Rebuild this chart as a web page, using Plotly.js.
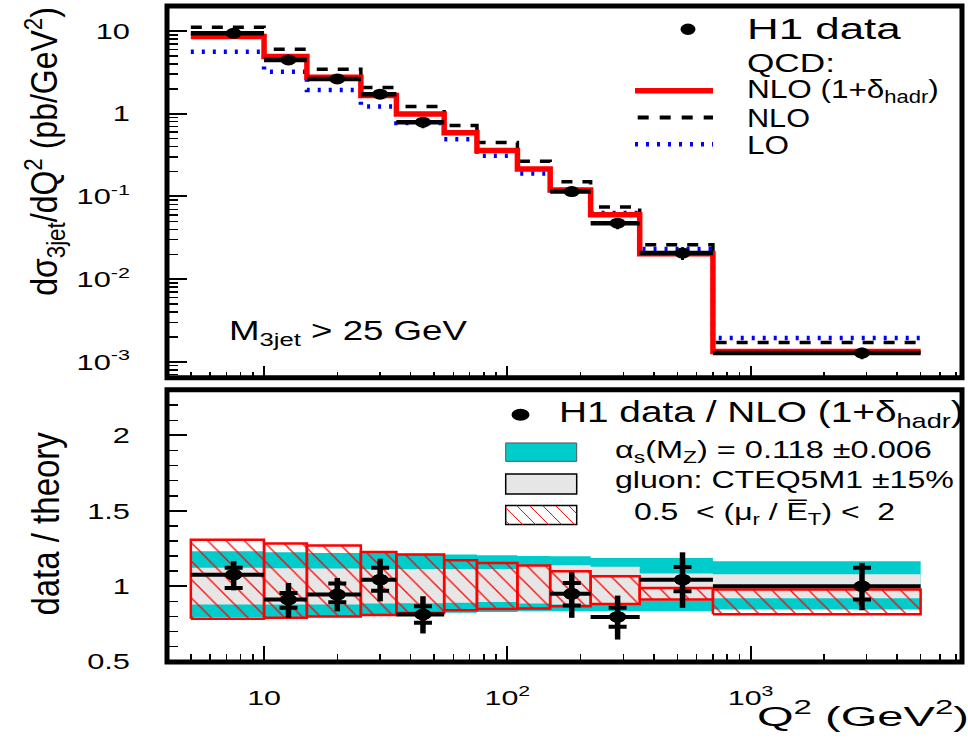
<!DOCTYPE html>
<html><head><meta charset="utf-8">
<script src="https://cdn.plot.ly/plotly-3.0.1.min.js"></script>
<style>html,body{margin:0;padding:0;background:#fff;} #chart{width:968px;height:750px;}</style>
</head><body><div id="chart"></div>
<script>
// ---------------- data ----------------
const binEdges = [5, 10, 15, 25, 35, 55, 75, 110, 150, 220, 350, 700, 5000];
const nloHadr = [8.6, 4.9, 2.76, 1.66, 0.99, 0.59, 0.36, 0.215, 0.12, 0.060, 0.0203, 0.00134];
const nlo     = [11.1, 6.0, 3.44, 2.07, 1.22, 0.72, 0.45, 0.267, 0.151, 0.0743, 0.026, 0.00172];
const lo      = [5.6, 3.22, 1.94, 1.22, 0.77, 0.49, 0.31, 0.19, 0.12, 0.063, 0.0231, 0.00195];

const dataQ2 = [7.5, 12.6, 20, 30, 45, 184, 284, 525, 2870];
const dataLo = [5, 10, 15, 25, 35, 150, 220, 350, 700];
const dataHi = [10, 15, 25, 35, 55, 220, 350, 700, 5000];
const xsec      = [9.38, 4.47, 2.63, 1.72, 0.789, 0.1146, 0.0475, 0.0207, 0.00128];
const xsecErrUp = [0.8, 0.5, 0.3, 0.24, 0.12, 0.016, 0.0075, 0.0036, 0.0002];
const xsecErrDn = [0.9, 0.45, 0.27, 0.2, 0.12, 0.016, 0.0075, 0.0036, 0.0002];

const ratio       = [1.077, 0.912, 0.945, 1.044, 0.813, 0.95, 0.797, 1.044, 1.0];
const ratioTotUp  = [0.089, 0.11, 0.11, 0.139, 0.121, 0.143, 0.141, 0.181, 0.155];
const ratioTotDn  = [0.104, 0.121, 0.111, 0.144, 0.126, 0.159, 0.15, 0.187, 0.159];
const ratioStatUp = [0.045, 0.044, 0.073, 0.078, 0.055, 0.072, 0.06, 0.084, 0.122];
const ratioStatDn = [0.088, 0.055, 0.051, 0.073, 0.055, 0.078, 0.066, 0.077, 0.088];

const alphaHi = [1.232, 1.225, 1.221, 1.221, 1.215, 1.21, 1.205, 1.2, 1.199, 1.188, 1.188, 1.166];
const alphaLo = [0.797, 0.797, 0.80, 0.81, 0.82, 0.824, 0.83, 0.834, 0.834, 0.834, 0.834, 0.846];
const gluonHi = [1.122, 1.12, 1.118, 1.115, 1.115, 1.115, 1.115, 1.14, 1.14, 1.13, 1.085, 1.08];
const gluonLo = [0.879, 0.879, 0.88, 0.885, 0.887, 0.89, 0.895, 0.885, 0.88, 0.88, 0.905, 0.92];
const scaleHi = [1.309, 1.283, 1.27, 1.228, 1.21, 1.172, 1.155, 1.137, 1.099, 1.066, 0.989, 0.978];
const scaleLo = [0.785, 0.792, 0.80, 0.81, 0.823, 0.841, 0.85, 0.853, 0.868, 0.882, 0.912, 0.815];

const yTopTickVals = [0.001, 0.01, 0.1, 1, 10];
const yTopTickText = ['10<sup>-3</sup>', '10<sup>-2</sup>', '10<sup>-1</sup>', '1', '10'];
const xTickVals = [10, 100, 1000];
const xTickText = ['10', '10<sup>2</sup>', '10<sup>3</sup>'];
const yBotTickVals = [0.5, 1, 1.5, 2];
const yBotTickText = ['0.5', '1', '1.5', '2'];

// ---------------- helpers ----------------
const FONT = 'Liberation Sans, Arial, Helvetica, sans-serif';
const W = 968, H = 750, L = 167, R = 962, T = 6, B = 662.5;
const px = p => (p - L) / (R - L);
const py = p => (B - p) / (B - T);
const stepY = a => a.concat([a[a.length - 1]]);

function minorLog(e0, e1) {
  const v = [];
  for (let e = e0; e <= e1; e++) for (let d = 2; d <= 9; d++) v.push(d * Math.pow(10, e));
  return v;
}

// boxes for scale uncertainty
const boxX = [], boxY = [];
for (let i = 0; i < scaleHi.length; i++) {
  const a = binEdges[i], b = binEdges[i + 1];
  boxX.push(a, b, b, a, a, null);
  boxY.push(scaleLo[i], scaleLo[i], scaleHi[i], scaleHi[i], scaleLo[i], null);
}

const errXp = dataHi.map((h, i) => h - dataQ2[i]);
const errXm = dataLo.map((l, i) => dataQ2[i] - l);

const traces = [
  {x: binEdges, y: stepY(lo), mode: 'lines', xaxis: 'x', yaxis: 'y',
   line: {shape: 'hv', color: '#0000ff', width: 4.5, dash: '3px,8px'}},
  {x: binEdges, y: stepY(nlo), mode: 'lines', xaxis: 'x', yaxis: 'y',
   line: {shape: 'hv', color: '#000000', width: 3.5, dash: '11px,10px'}},
  {x: binEdges, y: stepY(nloHadr), mode: 'lines', xaxis: 'x', yaxis: 'y',
   line: {shape: 'hv', color: '#ff0000', width: 5.5}},
  {x: dataQ2, y: xsec, mode: 'markers', xaxis: 'x', yaxis: 'y',
   marker: {size: 11, color: '#000'},
   error_x: {type: 'data', symmetric: false, array: errXp, arrayminus: errXm, color: '#000', thickness: 4.5, width: 0},
   error_y: {type: 'data', symmetric: false, array: xsecErrUp, arrayminus: xsecErrDn, color: '#000', thickness: 3, width: 0}},

  {x: binEdges, y: stepY(alphaLo), mode: 'lines', xaxis: 'x2', yaxis: 'y2',
   line: {shape: 'hv', width: 0, color: '#00cccc'}},
  {x: binEdges, y: stepY(alphaHi), mode: 'lines', xaxis: 'x2', yaxis: 'y2', fill: 'tonexty', fillcolor: '#00cccc',
   line: {shape: 'hv', width: 0, color: '#00cccc'}},
  {x: binEdges, y: stepY(gluonLo), mode: 'lines', xaxis: 'x2', yaxis: 'y2',
   line: {shape: 'hv', width: 0, color: '#e6e6e6'}},
  {x: binEdges, y: stepY(gluonHi), mode: 'lines', xaxis: 'x2', yaxis: 'y2', fill: 'tonexty', fillcolor: '#e6e6e6',
   line: {shape: 'hv', width: 0, color: '#e6e6e6'}},
  {x: boxX, y: boxY, mode: 'lines', xaxis: 'x2', yaxis: 'y2', fill: 'toself', fillcolor: 'rgba(0,0,0,0)',
   fillpattern: {shape: '\\', fgcolor: '#ff0000', bgcolor: 'rgba(0,0,0,0)', size: 13, solidity: 0.1},
   line: {color: '#ff0000', width: 2.5}},
  {x: dataQ2, y: ratio, mode: 'markers', xaxis: 'x2', yaxis: 'y2',
   marker: {size: 11.5, color: '#000'},
   error_y: {type: 'data', symmetric: false, array: ratioStatUp, arrayminus: ratioStatDn, color: '#000', thickness: 4, width: 9}},
  {x: dataQ2, y: ratio, mode: 'markers', xaxis: 'x2', yaxis: 'y2',
   marker: {size: 11.5, color: '#000'},
   error_x: {type: 'data', symmetric: false, array: errXp, arrayminus: errXm, color: '#000', thickness: 4, width: 0},
   error_y: {type: 'data', symmetric: false, array: ratioTotUp, arrayminus: ratioTotDn, color: '#000', thickness: 5.5, width: 0}}
];

// ---------------- decorations ----------------
const shapes = [
  {type: 'rect', xref: 'x domain', yref: 'y domain', x0: 0, x1: 1, y0: 0, y1: 1, line: {color: '#000', width: 5}, layer: 'above'},
  {type: 'rect', xref: 'x2 domain', yref: 'y2 domain', x0: 0, x1: 1, y0: 0, y1: 1, line: {color: '#000', width: 5}, layer: 'above'},
  // top legend samples
  {type: 'circle', xref: 'paper', yref: 'paper', x0: px(680.5), x1: px(695.5), y0: py(35), y1: py(23.5), fillcolor: '#000', line: {width: 0}},
  {type: 'line', xref: 'paper', yref: 'paper', x0: px(635), x1: px(713), y0: py(90.7), y1: py(90.7), line: {color: '#ff0000', width: 5.5}},
  {type: 'line', xref: 'paper', yref: 'paper', x0: px(637.7), x1: px(713), y0: py(117.5), y1: py(117.5), line: {color: '#000', width: 4, dash: '11px,11px'}},
  {type: 'line', xref: 'paper', yref: 'paper', x0: px(635), x1: px(713), y0: py(144.3), y1: py(144.3), line: {color: '#0000ff', width: 4.5, dash: '3px,8px'}},
  // bottom legend samples
  {type: 'circle', xref: 'paper', yref: 'paper', x0: px(511.5), x1: px(529.5), y0: py(421), y1: py(409), fillcolor: '#000', line: {width: 0}},
  {type: 'rect', xref: 'paper', yref: 'paper', x0: px(505.7), x1: px(576.7), y0: py(461.7), y1: py(443.3), fillcolor: '#00cccc', line: {color: '#555', width: 1}},
  {type: 'rect', xref: 'paper', yref: 'paper', x0: px(505.7), x1: px(576.7), y0: py(494.3), y1: py(474.3), fillcolor: '#e6e6e6', line: {color: '#000', width: 1.5}},
  {type: 'rect', xref: 'paper', yref: 'paper', x0: px(505.7), x1: px(576.7), y0: py(525), y1: py(506), fillcolor: '#fff', line: {color: '#000', width: 1.5}}
];
(function () {
  const l = 505.7, r = 576.7, t = 506, b = 525, h = b - t;
  for (let u = l - h + 4; u < r; u += 13) {
    let x0 = u, y0 = t, x1 = u + h, y1 = b;
    if (x0 < l) { y0 = t + (l - x0); x0 = l; }
    if (x1 > r) { y1 = t + (r - u); x1 = r; }
    shapes.push({type: 'line', xref: 'paper', yref: 'paper', x0: px(x0), y0: py(y0), x1: px(x1), y1: py(y1), line: {color: '#ff0000', width: 1}});
  }
})();

const texts = [
  {t: 'H1 data', x: 745, y: 29, s: 29, w: 155},
  {t: 'QCD:', x: 745, y: 63, s: 25, w: 88},
  {t: 'NLO (1+δ<sub>hadr</sub>)', x: 745, y: 91, s: 25, w: 192},
  {t: 'NLO', x: 745, y: 118, s: 25, w: 63},
  {t: 'LO', x: 745, y: 145, s: 25, w: 42},
  {t: 'M<sub>3jet</sub> &gt; 25 GeV', x: 226.7, y: 333.7, s: 27, w: 238},
  {t: 'H1 data / NLO (1+δ<sub>hadr</sub>)', x: 557, y: 414, s: 30, w: 405},
  {t: 'α<sub>s</sub>(M<sub>Z</sub>) = 0.118 ±0.006', x: 613, y: 452, s: 24, w: 317},
  {t: 'gluon: CTEQ5M1 ±15%', x: 613, y: 480, s: 24, w: 339},
  {t: '0.5&nbsp; &lt; (μ<sub>r</sub> / E\u0305<sub>T</sub>) &lt;&nbsp; 2', x: 632, y: 514, s: 24, w: 261},
  {t: 'Q<sup>2</sup> (GeV<sup>2</sup>)', x: 755, y: 715, s: 28, w: 212},
  {t: 'dσ<sub>3jet</sub>/dQ<sup>2</sup> (pb/GeV<sup>2</sup>)', x: 45, y: 152, s: 32, rot: true},
  {t: 'data / theory', x: 46, y: 524, s: 33, rot: true}
];
const annotations = texts.map(o => o.rot ? {
  text: o.t, xref: 'paper', yref: 'paper', x: px(o.x), y: py(o.y), xanchor: 'center', yanchor: 'middle',
  textangle: -90, showarrow: false, font: {family: FONT, size: o.s, color: '#000'}
} : {
  text: o.t, xref: 'paper', yref: 'paper', x: px(o.x), y: py(o.y), xanchor: 'left', yanchor: 'middle', align: 'left',
  showarrow: false, font: {family: FONT, size: o.s, color: '#000'}
});

const axBase = {showgrid: false, zeroline: false, showline: false, ticks: 'inside', tickcolor: '#000', tickwidth: 2};
const layout = {
  width: W, height: H,
  margin: {l: L, r: W - R, t: T, b: H - B, pad: 0},
  paper_bgcolor: '#fff', plot_bgcolor: '#fff', showlegend: false,
  font: {family: FONT, color: '#000'},
  xaxis: Object.assign({}, axBase, {type: 'log', range: [0.601, 3.869], domain: [0, 1], anchor: 'y',
    ticklen: 12, tickmode: 'array', tickvals: xTickVals, showticklabels: false,
    minor: {ticks: 'inside', ticklen: 6, tickwidth: 1.5, tickcolor: '#000', tickmode: 'array', tickvals: minorLog(0, 3), showgrid: false}}),
  xaxis2: Object.assign({}, axBase, {type: 'log', range: [0.601, 3.869], domain: [0, 1], anchor: 'y2', matches: 'x',
    ticklen: 16, tickmode: 'array', tickvals: xTickVals, ticktext: xTickText, tickfont: {family: FONT, size: 21, color: '#000'},
    ticklabelstandoff: 21,
    minor: {ticks: 'inside', ticklen: 8, tickwidth: 1.5, tickcolor: '#000', tickmode: 'array', tickvals: minorLog(0, 3), showgrid: false}}),
  yaxis: Object.assign({}, axBase, {type: 'log', range: [-3.191, 1.302], domain: [py(378), 1], anchor: 'x',
    ticklen: 20, tickmode: 'array', tickvals: yTopTickVals, ticktext: yTopTickText, tickfont: {family: FONT, size: 22, color: '#000'},
    ticklabelstandoff: 36,
    minor: {ticks: 'inside', ticklen: 11, tickwidth: 1.5, tickcolor: '#000', tickmode: 'array', tickvals: minorLog(-4, 1), showgrid: false}}),
  yaxis2: Object.assign({}, axBase, {range: [0.498, 2.303], domain: [0, py(390)], anchor: 'x2',
    ticklen: 20, tickmode: 'array', tickvals: yBotTickVals, ticktext: yBotTickText, tickfont: {family: FONT, size: 22, color: '#000'},
    ticklabelstandoff: 36,
    minor: {ticks: 'inside', ticklen: 11, tickwidth: 1.5, tickcolor: '#000', dtick: 0.1, tick0: 0, showgrid: false}}),
  shapes: shapes,
  annotations: annotations
};

function stretchText(t, s) {
  const bb = t.getBBox();
  const a = t.getAttribute('text-anchor') || 'start';
  const cx = a === 'start' ? bb.x : (a === 'end' ? bb.x + bb.width : bb.x + bb.width / 2);
  const old = t.getAttribute('transform') || '';
  t.setAttribute('transform', (old + ' translate(' + cx + ',0) scale(' + s + ',1) translate(' + (-cx) + ',0)').trim());
}
function stretchTextY(t, s) {
  const bb = t.getBBox();
  const cy = bb.y + bb.height / 2;
  const old = t.getAttribute('transform') || '';
  t.setAttribute('transform', (old + ' translate(0,' + cy + ') scale(1,' + s + ') translate(0,' + (-cy) + ')').trim());
}

const gd = document.getElementById('chart');
Plotly.newPlot(gd, traces, layout, {displayModeBar: false, staticPlot: true}).then(function () {
  gd.querySelectorAll('.ytick text, .y2tick text').forEach(t => stretchText(t, 1.4));
  gd.querySelectorAll('.x2tick text').forEach(t => stretchText(t, 1.45));
  gd.querySelectorAll('g.annotation').forEach(g => {
    const i = +g.getAttribute('data-index');
    const o = texts[i];
    if (!o) return;
    const t = g.querySelector('text.annotation-text');
    if (!t) return;
    if (o.rot) { stretchTextY(t, 1.15); return; }
    const bb = t.getBBox();
    if (bb.width > 0) stretchText(t, o.w / bb.width);
  });
  gd.querySelectorAll('.scatterlayer path.point').forEach(p => {
    const old = p.getAttribute('transform') || '';
    p.setAttribute('transform', old + ' scale(1.45,1)');
  });
  gd.querySelectorAll('svg text').forEach(t => {
    if (!t.textContent.trim()) t.parentNode.removeChild(t);
  });
});
</script></body></html>
